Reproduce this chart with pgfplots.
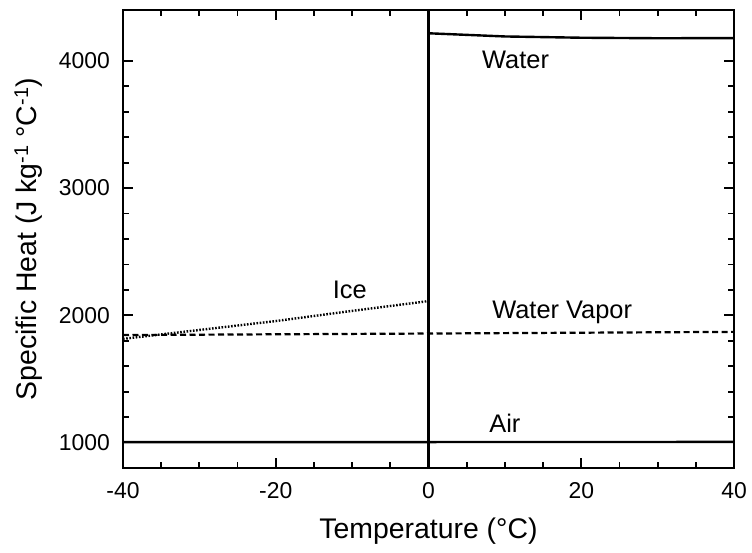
\documentclass[border=0pt]{standalone}
\usepackage{fontspec}
\setmainfont{Liberation Sans}
\usepackage{pgfplots}
\pgfplotsset{compat=1.18}
\begin{document}
\begin{tikzpicture}
\begin{axis}[name=ax, scale only axis, width=611bp, height=458bp,
  xmin=-40, xmax=40, ymin=800, ymax=4400,
  xtick={-40,-20,0,20,40}, ytick={1000,2000,3000,4000},
  minor x tick num=3, minor y tick num=4,
  tick align=inside, xtick pos=both, ytick pos=both,
  major tick length=10bp, minor tick length=6bp,
  axis line style={line width=2.2bp},
  every tick/.append style={line width=1.8bp, black},
  /pgf/number format/assume math mode=true,
  /pgf/number format/set thousands separator={},
  ticklabel style={font=\fontsize{23}{27}\selectfont},
  xticklabel style={anchor=north, inner sep=0pt, yshift=-14bp},
  yticklabel style={anchor=east, inner sep=0pt, xshift=-13bp},
  xlabel={Temperature (°C)},
  ylabel={Specific Heat (J kg\textsuperscript{-1} °C\textsuperscript{-1})},
  label style={font=\fontsize{28.5}{33}\selectfont},
  xlabel style={at={([yshift=-70bp]axis description cs:0.5,0)}, anchor=base},
  ylabel style={at={([xshift=-86bp]axis description cs:0,0.5)}, anchor=base},
  clip=true,
]
% vertical line at 0 C
\addplot[black, line width=2.2bp] coordinates {(0,800) (0,4400)};
% Water
\addplot[black, line width=2.4bp] coordinates {(0,4217) (10,4192) (20,4182) (30,4178) (40,4179)};
% Ice
\addplot[black, line width=2.4bp, dash pattern=on 1.6bp off 1.6bp] coordinates {(-40,1815) (-30,1885) (-20,1955) (-10,2035) (0,2112)};
% Water vapor
\addplot[black, line width=2.2bp, dash pattern=on 6bp off 3.5bp] coordinates {(-40,1845) (0,1857) (40,1870)};
% Air
\addplot[black, line width=2.4bp] coordinates {(-40,1003) (0,1004) (40,1005)};
\node[anchor=base, font=\fontsize{25.5}{30}\selectfont] at (axis cs:11.4,3937) {Water};
\node[anchor=base, font=\fontsize{25.5}{30}\selectfont] at (axis cs:17.5,1977) {Water Vapor};
\node[anchor=base, font=\fontsize{25.5}{30}\selectfont] at (axis cs:-10.3,2133) {Ice};
\node[anchor=base, font=\fontsize{25.5}{30}\selectfont] at (axis cs:10.0,1078) {Air};
\end{axis}
\pgfresetboundingbox
\path ([xshift=-123bp, yshift=-84bp]ax.south west) rectangle ([xshift=18bp, yshift=10bp]ax.north east);
\end{tikzpicture}
\end{document}
